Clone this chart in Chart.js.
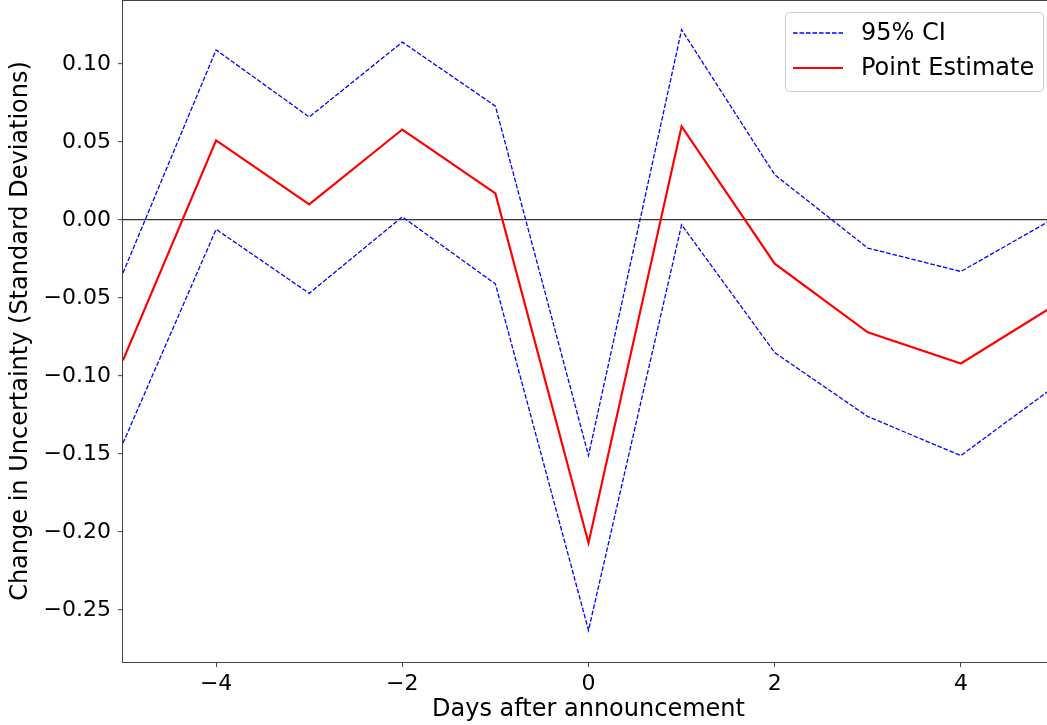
<!DOCTYPE html>
<html>
<head>
<meta charset="utf-8">
<script src="https://cdn.jsdelivr.net/npm/chart.js@4.4.1/dist/chart.umd.min.js"></script>
<style>
    html, body { margin: 0; padding: 0; background: #fff; overflow: hidden; }
    #wrap { width: 1055px; height: 725px; }
</style>
</head>
<body>
<div id="wrap"><canvas id="eventChart" width="1055" height="725"></canvas></div>
<script>
// days relative to the announcement
const days = [-5, -4, -3, -2, -1, 0, 1, 2, 3, 4, 5];
const upperCI = [-0.034, 0.109, 0.066, 0.114, 0.073, -0.151, 0.122, 0.029, -0.018, -0.033, 0.001];
const pointEstimate = [-0.090, 0.051, 0.010, 0.058, 0.017, -0.207, 0.060, -0.028, -0.072, -0.092, -0.055];
const lowerCI = [-0.143, -0.006, -0.047, 0.002, -0.041, -0.263, -0.003, -0.085, -0.126, -0.151, -0.107];

const xTicks = [-4, -2, 0, 2, 4];
const yTicks = [-0.25, -0.20, -0.15, -0.10, -0.05, 0.00, 0.05, 0.10];

const FONT = '"DejaVu Sans", sans-serif';

function toPoints(values) {
    return days.map((d, i) => ({ x: d, y: values[i] }));
}

function minusSign(str) {
    return str.replace('-', '\u2212');
}

// matplotlib style frame (left, bottom, top spines)
const framePlugin = {
    id: 'frame',
    afterDatasetsDraw(chart) {
        const { ctx, chartArea } = chart;
        ctx.save();
        ctx.strokeStyle = '#444';
        ctx.lineWidth = 1;
        ctx.strokeRect(chartArea.left - 0.5, chartArea.top + 0.5, chartArea.width + 1, chartArea.height);
        ctx.restore();
    }
};

// legend box in the upper right corner
const legendBoxPlugin = {
    id: 'legendBox',
    afterDraw(chart) {
        const ctx = chart.ctx;
        const x = 785, y = 12, w = 258, h = 79;
        ctx.save();
        ctx.fillStyle = 'rgba(255,255,255,0.8)';
        ctx.strokeStyle = '#cccccc';
        ctx.lineWidth = 1;
        ctx.beginPath();
        ctx.roundRect(x + 0.5, y + 0.5, w, h, 4);
        ctx.fill();
        ctx.stroke();

        const items = chart.data.datasets.slice(0, 2);
        items.forEach((ds, i) => {
            const ly = 33 + i * 35;
            ctx.strokeStyle = ds.borderColor;
            ctx.lineWidth = ds.borderWidth;
            ctx.setLineDash(ds.borderDash || []);
            ctx.beginPath();
            ctx.moveTo(793, ly);
            ctx.lineTo(843, ly);
            ctx.stroke();
            ctx.setLineDash([]);
            ctx.fillStyle = '#000';
            ctx.font = '24px ' + FONT;
            ctx.textBaseline = 'middle';
            ctx.textAlign = 'left';
            ctx.fillText(ds.label, 861, ly + 1);
        });
        ctx.restore();
    }
};

const ctx = document.getElementById('eventChart').getContext('2d');
const eventChart = new Chart(ctx, {
    type: 'line',
    data: {
        datasets: [
            {
                label: '95% CI',
                data: toPoints(upperCI),
                borderColor: '#0000ff',
                borderWidth: 1.3,
                borderDash: [4.6, 1.9]
            },
            {
                label: 'Point Estimate',
                data: toPoints(pointEstimate),
                borderColor: '#ff0000',
                borderWidth: 2.2
            },
            {
                label: '95% CI',
                data: toPoints(lowerCI),
                borderColor: '#0000ff',
                borderWidth: 1.3,
                borderDash: [4.6, 1.9]
            }
        ]
    },
    options: {
        responsive: false,
        animation: false,
        layout: { padding: { top: 0, right: 1, bottom: 0, left: 0 } },
        elements: {
            point: { radius: 0, hoverRadius: 0 },
            line: { tension: 0, fill: false }
        },
        plugins: {
            legend: { display: false },
            tooltip: { enabled: false }
        },
        scales: {
            x: {
                type: 'linear',
                min: -5,
                max: 5,
                afterBuildTicks: scale => { scale.ticks = xTicks.map(v => ({ value: v })); },
                afterFit: scale => {
                    scale.height = 63;
                    scale.paddingLeft = 0;
                    scale.paddingRight = 0;
                },
                ticks: {
                    color: '#000',
                    padding: 4,
                    font: { family: FONT, size: 22 },
                    maxRotation: 0,
                    callback: v => minusSign(String(v))
                },
                grid: {
                    drawOnChartArea: false,
                    tickLength: 5,
                    tickColor: '#444'
                },
                border: { display: false },
                title: {
                    display: true,
                    text: 'Days after announcement',
                    color: '#000',
                    font: { family: FONT, size: 24 },
                    padding: { top: 0, bottom: 1 }
                }
            },
            y: {
                min: -0.2833,
                max: 0.141,
                afterBuildTicks: scale => { scale.ticks = yTicks.map(v => ({ value: v })); },
                afterFit: scale => {
                    scale.width = 123;
                    scale.paddingTop = 0;
                    scale.paddingBottom = 0;
                },
                ticks: {
                    color: '#000',
                    padding: 7,
                    font: { family: FONT, size: 22 },
                    callback: v => minusSign(Number(v).toFixed(2))
                },
                grid: {
                    color: c => (c.tick && Math.abs(c.tick.value) < 1e-9) ? '#333' : 'rgba(0,0,0,0)',
                    lineWidth: 1.3,
                    tickLength: 5,
                    tickColor: '#444',
                    tickWidth: 1
                },
                border: { display: false },
                title: {
                    display: true,
                    text: 'Change in Uncertainty (Standard Deviations)',
                    color: '#000',
                    font: { family: FONT, size: 24 },
                    padding: { top: 6, bottom: 0 }
                }
            }
        }
    },
    plugins: [framePlugin, legendBoxPlugin]
});
</script>
</body>
</html>
